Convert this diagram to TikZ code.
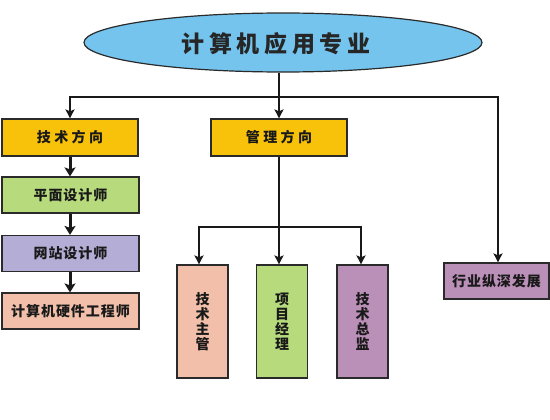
\documentclass[tikz,border=0pt]{standalone}
\usepackage{fontspec}
\usetikzlibrary{arrows.meta,shapes.geometric}
\newfontfamily\cjkTitle[LetterSpace=20]{Noto Sans CJK SC}
\newfontfamily\cjkWide[LetterSpace=24]{Noto Sans CJK SC}
\newfontfamily\cjkNarrow[LetterSpace=7]{Noto Sans CJK SC}
\definecolor{skyblue}{HTML}{74C4EE}
\definecolor{goldbox}{HTML}{F9C20A}
\definecolor{greenbox}{HTML}{B6DA7C}
\definecolor{lavbox}{HTML}{B4ADD6}
\definecolor{salbox}{HTML}{F2C0AA}
\definecolor{mauvebox}{HTML}{BA8FB8}
\definecolor{edgegray}{HTML}{2A2A2A}
\tikzset{
  box/.style={draw=edgegray, line width=1.2pt, inner sep=0pt, text=black!90},
  hbox/.style={box, minimum height=36pt, font=\cjkNarrow\bfseries\fontsize{14pt}{15pt}\selectfont},
  obox/.style={box, fill=goldbox, minimum width=136pt, minimum height=37pt, font=\cjkWide\bfseries\fontsize{14pt}{15pt}\selectfont},
  vbox/.style={box, minimum width=51pt, minimum height=113pt, align=center, font=\cjkNarrow\bfseries\fontsize{14pt}{15pt}\selectfont},
  conn/.style={line width=2pt, draw=black!90, -{Stealth[length=9pt,width=9pt,inset=2pt]}},
  thick conn/.style={line width=3pt, draw=black!90, -{Stealth[length=9pt,width=11pt,inset=2pt]}},
  plain conn/.style={line width=2pt, draw=black!90},
}
\begin{document}
\begin{tikzpicture}[x=1pt,y=-1pt]
\useasboundingbox (0,0) rectangle (550,420);
\fill[white] (0,0) rectangle (550,420);
% root
\node[ellipse, draw=edgegray, line width=1.2pt, fill=skyblue, minimum width=398pt, minimum height=59pt, inner sep=0pt] (root) at (283,42.5) {};
\node[font=\cjkTitle\bfseries\fontsize{23pt}{24pt}\selectfont, text=black!85, inner sep=0pt] (title) at (276,43.5) {计算机应用专业};
% level 1
\node[obox] (tech) at (70,137.5) {技术方向};
\node[obox] (mgmt) at (279,137.5) {管理方向};
\node[hbox, fill=mauvebox, minimum width=105pt] (ind) at (496.5,281) {行业纵深发展};
% left column
\node[hbox, fill=greenbox, minimum width=137pt] (pm) at (70.5,195) {平面设计师};
\node[hbox, fill=lavbox, minimum width=137pt] (wz) at (70.5,253.5) {网站设计师};
\node[hbox, fill=salbox, minimum width=137pt] (yj) at (70.5,311) {计算机硬件工程师};
% management children
\node[vbox, fill=salbox] (jszg) at (202.5,321.5) {技\\术\\主\\管};
\node[vbox, fill=greenbox] (xmjl) at (282,321.5) {项\\目\\经\\理};
\node[vbox, fill=mauvebox] (jszj) at (362.5,321.5) {技\\术\\总\\监};
% hubs
\coordinate (hub) at (279,97);
\coordinate (mhub) at (279,227);
% connectors from root
\draw[plain conn] (mgmt.north |- root.south) -- (hub);
\draw[conn] (hub) -- (mgmt.north);
\draw[conn] (hub) -| (tech.north);
\draw[conn] (hub) -| ([xshift=1.5pt]ind.north);
% left chain
\draw[thick conn] (tech.south) -- (tech.south |- pm.north);
\draw[thick conn] (tech.south |- pm.south) -- (tech.south |- wz.north);
\draw[thick conn] (tech.south |- wz.south) -- (tech.south |- yj.north);
% management branch
\draw[plain conn] (mgmt.south) -- (mhub);
\draw[conn] (mhub) -| ([xshift=-3.5pt]jszg.north);
\draw[conn] (mhub) -- (mhub |- xmjl.north);
\draw[conn] (mhub) -| ([xshift=-1.5pt]jszj.north);
\end{tikzpicture}
\end{document}
